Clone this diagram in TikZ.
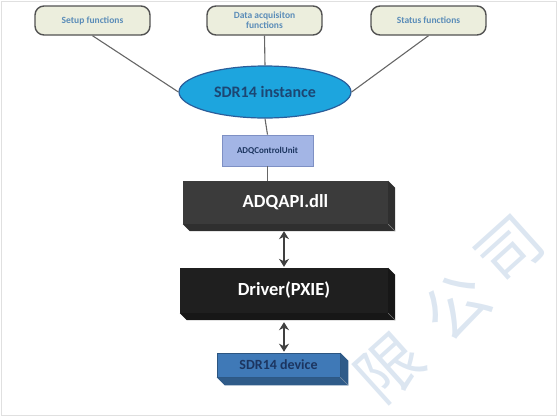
\documentclass[tikz,border=0pt]{standalone}
\usepackage{fontspec}
\setmainfont{Carlito}
\newfontfamily\cjk{Noto Sans CJK SC}
\usepackage{tikz}
\usetikzlibrary{arrows.meta,positioning,shapes.geometric}
\definecolor{funcfill}{HTML}{ECEEDD}
\definecolor{functext}{HTML}{5A8CB8}
\definecolor{instfill}{HTML}{1DA5DE}
\definecolor{instdraw}{HTML}{2A5D9A}
\definecolor{unitfill}{HTML}{A3B5E5}
\definecolor{unitdraw}{HTML}{7E90C4}
\definecolor{apifill}{HTML}{3B3B3B}
\definecolor{drvfill}{HTML}{1F1F1F}
\definecolor{devfill}{HTML}{3F79B7}
\definecolor{navy}{HTML}{1C3560}
\definecolor{wmark}{HTML}{DCE6F1}
\tikzset{
  fn/.style={draw=black!68, line width=1.4pt, rounded corners=9pt, fill=funcfill, text=functext,
             font=\bfseries\fontsize{9.5}{10}\selectfont, align=center, minimum width=115pt, minimum height=29pt, inner sep=1pt},
  inst/.style={ellipse, draw=instdraw, line width=1.2pt, fill=instfill, text=navy!85!instfill,
               font=\bfseries\fontsize{16}{17}\selectfont, minimum width=172pt, minimum height=52pt, inner sep=0pt},
  unit/.style={draw=unitdraw, line width=0.8pt, fill=unitfill, text=navy, font=\bfseries\fontsize{9}{10}\selectfont,
               minimum width=91pt, minimum height=31pt},
  slab/.style={fill=#1, text=white, font=\bfseries\fontsize{18.5}{19}\selectfont, inner sep=0pt},
  link/.style={draw=black!60, line width=1.1pt},
  both/.style={{Stealth[length=8pt,width=10pt]}-{Stealth[length=8pt,width=10pt]}, draw=black!75, line width=2.2pt},
  wm/.style={text=wmark, rotate=42, inner sep=0pt, font=\cjk\fontsize{64}{64}\selectfont}
}
% front face is the node, #2 is the depth, #3 the side colour
\newcommand{\extrude}[3]{%
  \fill[#3] (#1.north east) -- ([shift={(#2,#2)}]#1.north east) -- ([shift={(#2,#2)}]#1.south east)
    -- ([shift={(#2,#2)}]#1.south west) -- (#1.south west) -- (#1.south east) -- cycle;
  \draw[white!55!#3, line width=0.5pt] (#1.south east) -- ([shift={(#2,#2)}]#1.south east);}

\begin{document}
\begin{tikzpicture}[x=1pt, y=-1pt]
\useasboundingbox (0,0) rectangle (560,416);
\draw[black!12, line width=0.8pt] (1,1) rectangle (556,415);
\foreach \ch/\px/\py [count=\i] in {限/390/368, 公/456/306, 司/510/250}
  \node[wm] (wm\i) at (\px,\py) {\ch};

\node[fn] (setup) at (92.5,20.5) {Setup functions};
\node[fn] (daq) at (264.5,20.5) {Data acquisiton\\functions};
\node[fn] (status) at (428.5,20.5) {Status functions};
\node[inst] (inst) at (265,92) {SDR14 instance};
\node[unit] (unit) at (267.5,150.5) {ADQControlUnit};
\node[slab=apifill, minimum width=205pt, minimum height=43pt] (api) at (285.5,202.5) {ADQAPI.dll};
\node[slab=drvfill, minimum width=208pt, minimum height=45pt] (drv) at (284,290.5) {Driver(PXIE)};
\node[slab=devfill, text=navy, font=\bfseries\fontsize{14}{15}\selectfont, draw=devfill!70!black, line width=0.6pt,
      minimum width=123pt, minimum height=24pt] (dev) at (278.5,365) {SDR14 device};
\extrude{api}{7}{apifill!80!black}
\extrude{drv}{7}{drvfill!75!black}
\extrude{dev}{8}{devfill!75!black}

\draw[link] (setup.south) -- (inst.west);
\draw[link] (daq.south) -- (inst.north);
\draw[link] (status.south) -- (inst.east);
\draw[link] (inst.south) -- (unit.north);
\draw[link] (unit.south) -- (unit.south |- api.north);
\draw[both, shorten <=7pt, shorten >=1pt] (drv.north |- api.south) -- (drv.north);
\draw[both, shorten <=9pt, shorten >=1pt] (drv.south) -- (drv.south |- dev.north);
\end{tikzpicture}
\end{document}
